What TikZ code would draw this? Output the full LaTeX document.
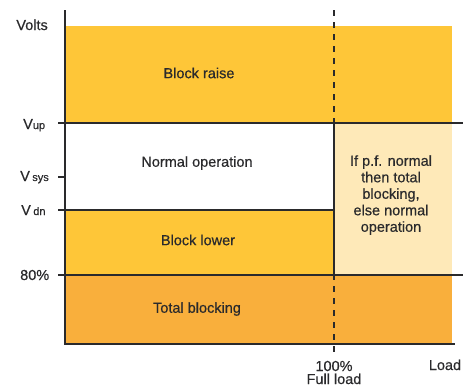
\documentclass[tikz,border=0pt]{standalone}
\usepackage{fontspec}
\setmainfont{Liberation Sans}
\newfontfamily\medfont{Liberation Sans}[FakeBold=0.5]
\definecolor{ylw}{HTML}{FEC638}
\definecolor{org}{HTML}{F9AF3C}
\definecolor{lyl}{HTML}{FEE9B8}
\definecolor{ink}{HTML}{2A2A2C}
\newcommand{\sbs}[1]{{\fontsize{11}{11}\selectfont #1}}
\begin{document}
\begin{tikzpicture}[x=1pt,y=-1pt,
  lbl/.style={text=ink,font=\medfont\fontsize{14.5}{16.5}\selectfont,inner sep=0pt},
  boxtxt/.style={lbl,align=center},
  rule/.style={draw=ink,line width=1.4pt},
  axis/.style={draw=ink,line width=2.6pt}]
\useasboundingbox (0,0) rectangle (463,386);
% fills
\fill[ylw] (66,26) rectangle (452,123);
\fill[ylw] (66,210) rectangle (334,275);
\fill[lyl] (334,123) rectangle (452,275);
\fill[org] (66,275) rectangle (452,344);
% coordinates
\coordinate (upL) at (58,123); \coordinate (upR) at (463,123);
\coordinate (sysL) at (58,177); \coordinate (sysR) at (65,177);
\coordinate (dnL) at (58,210); \coordinate (dnR) at (334,210);
\coordinate (eiL) at (58,275); \coordinate (eiR) at (463,275);
\coordinate (mid1) at (334,123); \coordinate (mid2) at (334,275);
\coordinate (dashT) at (334,10); \coordinate (dashB) at (334,353);
\coordinate (yT) at (65,10); \coordinate (orig) at (65,344); \coordinate (xR) at (455,344);
% rules
\draw[rule] (upL) -- (upR);
\draw[rule] (sysL) -- (sysR);
\draw[rule] (dnL) -- (dnR);
\draw[rule] (eiL) -- (eiR);
\draw[rule] (mid1) -- (mid2);
\draw[draw=ink,line width=1.4pt,dash pattern=on 6pt off 6pt] (dashT) -- (dashB);
\draw[axis] (yT) -- (orig) -- (xR);
% texts
\node[lbl,anchor=base east] (volts) at (48,30) {Volts};
\node[lbl,anchor=base west] (vup) at (23,129) {V\sbs{up}};
\node[lbl,anchor=base west] (vsys) at (20,181) {V\,\sbs{sys}};
\node[lbl,anchor=base west] (vdn) at (21,215) {V\,\sbs{dn}};
\node[lbl,anchor=base west] (p80) at (20,280) {80\%};
\node[lbl] (raise) at (199,73) {Block raise};
\node[lbl] (normal) at (197,163) {Normal operation};
\node[lbl] (lower) at (198,240) {Block lower};
\node[lbl] (total) at (197,309) {Total blocking};
\node[boxtxt] (pf) at (391,195) {If p.f. normal\\then total\\blocking,\\else normal\\operation};
\node[lbl,anchor=base] (hund) at (334,371) {100\%};
\node[lbl,anchor=base] (full) at (334,384) {Full load};
\node[lbl,anchor=base] (load) at (445,370) {Load};
\end{tikzpicture}
\end{document}
